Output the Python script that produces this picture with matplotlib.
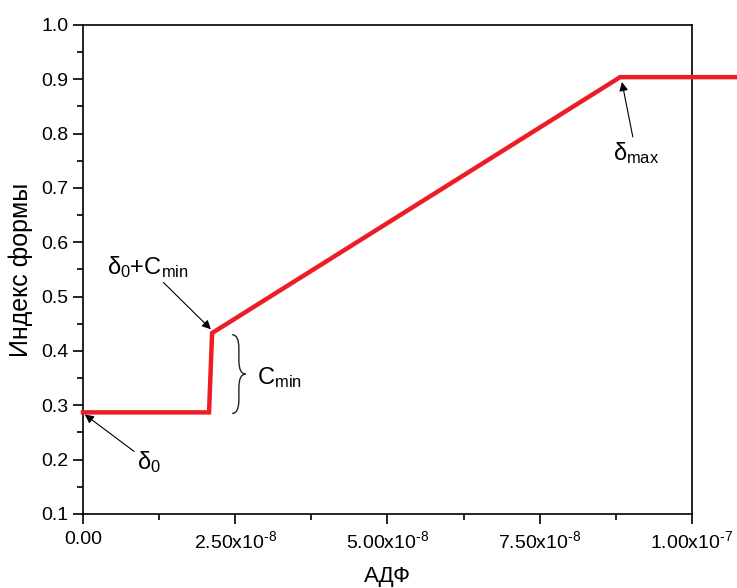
import matplotlib
matplotlib.use("Agg")
import matplotlib.pyplot as plt
from matplotlib.path import Path
from matplotlib.patches import PathPatch
from matplotlib.ticker import MultipleLocator

plt.rcParams['font.family'] = ['Liberation Sans', 'DejaVu Sans']
plt.rcParams['mathtext.fontset'] = 'custom'
plt.rcParams['mathtext.rm'] = 'Liberation Sans'
plt.rcParams['mathtext.it'] = 'Liberation Sans'

# data
adf = [0.0, 2.07e-8, 2.12e-8, 8.82e-8, 1.08e-7]
shape_index = [0.287, 0.287, 0.433, 0.904, 0.904]

x_ticks = [0.0, 2.5e-8, 5.0e-8, 7.5e-8, 1.0e-7]
x_ticklabels = ['0.00', r'2.50x10$^{\text{-8}}$', r'5.00x10$^{\text{-8}}$',
                r'7.50x10$^{\text{-8}}$', r'1.00x10$^{\text{-7}}$']

fig = plt.figure(figsize=(7.37, 5.88), dpi=100)
ax = fig.add_axes([0.1126, 0.1259, 0.8263, 0.8316])

ax.plot(adf, shape_index, color='#ee1c25', lw=3.2, clip_on=False,
        solid_joinstyle='miter', zorder=3)

ax.set_xlim(0, 1e-7)
ax.set_ylim(0.1, 1.0)
ax.set_xticks(x_ticks)
ax.set_xticklabels(x_ticklabels)
ax.xaxis.set_minor_locator(MultipleLocator(1.25e-8))
ax.yaxis.set_major_locator(MultipleLocator(0.1))
ax.yaxis.set_minor_locator(MultipleLocator(0.05))
ax.tick_params(which='both', direction='out', top=False, right=False,
               width=1.2, labelsize=14)
ax.tick_params(which='major', length=7)
ax.tick_params(which='minor', length=4)
ax.tick_params(axis='x', pad=5)
for s in ax.spines.values():
    s.set_linewidth(1.2)

ax.set_xlabel('АДФ', fontsize=16, labelpad=10)
ax.set_ylabel('Индекс формы', fontsize=18, labelpad=6)

arrow = dict(arrowstyle='-|>', color='black', lw=0.8, mutation_scale=13,
             shrinkA=0, shrinkB=0)
ax.annotate(r'$\delta_0$', xy=(0.03e-8, 0.283), xytext=(1.08e-8, 0.195),
            fontsize=17, ha='center', va='center', arrowprops=arrow)
ax.annotate(r'$\delta_0$+C$_{\mathrm{min}}$', xy=(2.1e-8, 0.44), xytext=(1.06e-8, 0.555),
            fontsize=17, ha='center', va='center', arrowprops=arrow)
ax.annotate(r'$\delta_{\mathrm{max}}$', xy=(8.85e-8, 0.895), xytext=(9.08e-8, 0.765),
            fontsize=17, ha='center', va='center', arrowprops=arrow)

# curly brace next to the jump
x0, x1 = 2.45e-8, 2.67e-8
yt, yb = 0.43, 0.285
ym = (yt + yb) / 2
xm = (x0 + x1) / 2
verts = [(x0, yt), (xm, yt), (xm, yt - 0.025),
         (xm, ym + 0.025), (xm, ym), (x1, ym),
         (x1, ym), (xm, ym), (xm, ym - 0.025),
         (xm, yb + 0.025), (xm, yb), (x0, yb)]
codes = [Path.MOVETO, Path.CURVE3, Path.CURVE3,
         Path.LINETO, Path.CURVE3, Path.CURVE3,
         Path.MOVETO, Path.CURVE3, Path.CURVE3,
         Path.LINETO, Path.CURVE3, Path.CURVE3]
ax.add_patch(PathPatch(Path(verts, codes), fill=False, lw=1.0, color='#222222'))
ax.text(2.86e-8, 0.352, r'C$_{\mathrm{min}}$', fontsize=17, ha='left', va='center')

fig.savefig('out.png', dpi=100)
